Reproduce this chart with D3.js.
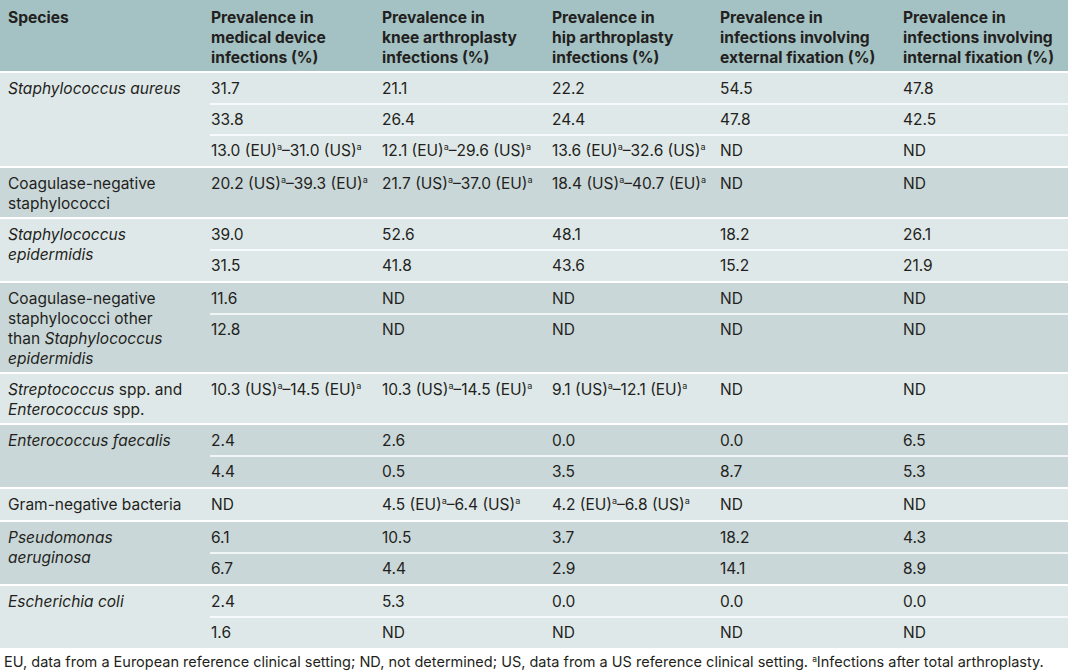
<!DOCTYPE html>
<html>
<head>
<meta charset="utf-8">
<script src="https://cdn.jsdelivr.net/npm/d3@7"></script>
<style>
  html, body { margin: 0; padding: 0; background: #ffffff; }
  svg { display: block; }
  text { font-family: "Inter", "Open Sans", sans-serif; fill: #231f20; }
</style>
</head>
<body>
<svg id="chart" width="1072" height="672"></svg>
<script>
// ---------------- DATA ----------------
const columnKeys = ["species", "medical", "knee", "hip", "external", "internal"];

const headers = [
  ["Species"],
  ["Prevalence in", "medical device", "infections (%)"],
  ["Prevalence in", "knee arthroplasty", "infections (%)"],
  ["Prevalence in", "hip arthroplasty", "infections (%)"],
  ["Prevalence in", "infections involving", "external fixation (%)"],
  ["Prevalence in", "infections involving", "internal fixation (%)"]
];

// *...* marks italic text
const species = [
  ["*Staphylococcus aureus*"],
  ["Coagulase-negative", "staphylococci"],
  ["*Staphylococcus*", "*epidermidis*"],
  ["Coagulase-negative", "staphylococci other", "than *Staphylococcus*", "*epidermidis*"],
  ["*Streptococcus* spp. and", "*Enterococcus* spp."],
  ["*Enterococcus faecalis*"],
  ["Gram-negative bacteria"],
  ["*Pseudomonas*", "*aeruginosa*"],
  ["*Escherichia coli*"]
];

// ^a marks the superscript footnote letter
const medicalDevice = [
  ["31.7", "33.8", "13.0 (EU)^a–31.0 (US)^a"],
  ["20.2 (US)^a–39.3 (EU)^a"],
  ["39.0", "31.5"],
  ["11.6", "12.8"],
  ["10.3 (US)^a–14.5 (EU)^a"],
  ["2.4", "4.4"],
  ["ND"],
  ["6.1", "6.7"],
  ["2.4", "1.6"]
];
const kneeArthroplasty = [
  ["21.1", "26.4", "12.1 (EU)^a–29.6 (US)^a"],
  ["21.7 (US)^a–37.0 (EU)^a"],
  ["52.6", "41.8"],
  ["ND", "ND"],
  ["10.3 (US)^a–14.5 (EU)^a"],
  ["2.6", "0.5"],
  ["4.5 (EU)^a–6.4 (US)^a"],
  ["10.5", "4.4"],
  ["5.3", "ND"]
];
const hipArthroplasty = [
  ["22.2", "24.4", "13.6 (EU)^a–32.6 (US)^a"],
  ["18.4 (US)^a–40.7 (EU)^a"],
  ["48.1", "43.6"],
  ["ND", "ND"],
  ["9.1 (US)^a–12.1 (EU)^a"],
  ["0.0", "3.5"],
  ["4.2 (EU)^a–6.8 (US)^a"],
  ["3.7", "2.9"],
  ["0.0", "ND"]
];
const externalFixation = [
  ["54.5", "47.8", "ND"],
  ["ND"],
  ["18.2", "15.2"],
  ["ND", "ND"],
  ["ND"],
  ["0.0", "8.7"],
  ["ND"],
  ["18.2", "14.1"],
  ["0.0", "ND"]
];
const internalFixation = [
  ["47.8", "42.5", "ND"],
  ["ND"],
  ["26.1", "21.9"],
  ["ND", "ND"],
  ["ND"],
  ["6.5", "5.3"],
  ["ND"],
  ["4.3", "8.9"],
  ["0.0", "ND"]
];

const footnote = "EU, data from a European reference clinical setting; ND, not determined; US, data from a US reference clinical setting. ^aInfections after total arthroplasty.";

// ---------------- LAYOUT ----------------
const W = 1072, H = 672, tableW = 1068;
const headerH = 71, gap = 2, subRowH = 31, lineH = 20, labelPad = 9;
const fontSize = 15.5, headFontSize = 15.6, footSize = 14.5;
const colors = { header: "#a4c2c3", light: "#dfe8e8", dark: "#cad7d8", sep: "#ffffff" };

const valueColumns = [medicalDevice, kneeArthroplasty, hipArthroplasty, externalFixation, internalFixation];

const x = d3.scaleOrdinal().domain(columnKeys).range([8, 211, 382, 552, 720, 903]);

// group heights from content
const groups = species.map((lines, i) => {
  const nRows = medicalDevice[i].length;
  const h = Math.max(nRows * subRowH, labelPad + lines.length * lineH);
  return { i, lines, nRows, h };
});
let yCursor = headerH + gap;
groups.forEach(g => { g.y0 = yCursor; yCursor += g.h + gap; });
const tableBottom = yCursor - gap;

const svg = d3.select("#chart");
svg.append("rect").attr("width", W).attr("height", H).attr("fill", "#ffffff");

// rich text helper: *italic* and ^a superscript
function rich(textSel, str, fs) {
  const tokens = [];
  const re = /(\*[^*]+\*|\^a)/g;
  let last = 0, m;
  while ((m = re.exec(str)) !== null) {
    if (m.index > last) tokens.push({ t: str.slice(last, m.index), type: "n" });
    if (m[0] === "^a") tokens.push({ t: "a", type: "sup" });
    else tokens.push({ t: m[0].slice(1, -1), type: "i" });
    last = m.index + m[0].length;
  }
  if (last < str.length) tokens.push({ t: str.slice(last), type: "n" });
  let raised = false;
  tokens.forEach(tok => {
    const ts = textSel.append("tspan").text(tok.t);
    if (tok.type === "i") ts.attr("font-style", "italic");
    if (tok.type === "sup") {
      ts.attr("font-size", fs * 0.58).attr("dy", -fs * 0.36);
      raised = true;
    } else if (raised) {
      ts.attr("dy", fs * 0.36);
      raised = false;
    }
  });
}

// header
svg.append("rect").attr("x", 0).attr("y", 0).attr("width", tableW).attr("height", headerH).attr("fill", colors.header);
headers.forEach((lines, c) => {
  lines.forEach((ln, k) => {
    svg.append("text")
      .attr("x", x(columnKeys[c]))
      .attr("y", 23 + k * 20)
      .attr("font-size", headFontSize)
      .attr("font-weight", "bold")
      .text(ln);
  });
});

// body
groups.forEach(g => {
  const band = svg.append("g");
  band.append("rect")
    .attr("x", 0).attr("y", g.y0).attr("width", tableW).attr("height", g.h)
    .attr("fill", g.i % 2 === 0 ? colors.light : colors.dark);

  // sub-row separators
  for (let r = 1; r < g.nRows; r++) {
    band.append("rect")
      .attr("x", 210).attr("y", g.y0 + r * subRowH - 0.75)
      .attr("width", tableW - 210).attr("height", 1.5)
      .attr("fill", colors.sep);
  }

  const firstBase = g.y0 + subRowH / 2 + 5;
  // species label
  g.lines.forEach((ln, k) => {
    const t = band.append("text")
      .attr("x", x("species")).attr("y", firstBase + k * lineH)
      .attr("font-size", fontSize);
    rich(t, ln, fontSize);
  });
  // values
  valueColumns.forEach((col, c) => {
    col[g.i].forEach((val, r) => {
      const t = band.append("text")
        .attr("x", x(columnKeys[c + 1])).attr("y", firstBase + r * subRowH)
        .attr("font-size", fontSize);
      rich(t, val, fontSize);
    });
  });
});

// footnote
const fn = svg.append("text").attr("x", 4).attr("y", tableBottom + 19).attr("font-size", footSize);
rich(fn, footnote, footSize);
</script>
</body>
</html>
